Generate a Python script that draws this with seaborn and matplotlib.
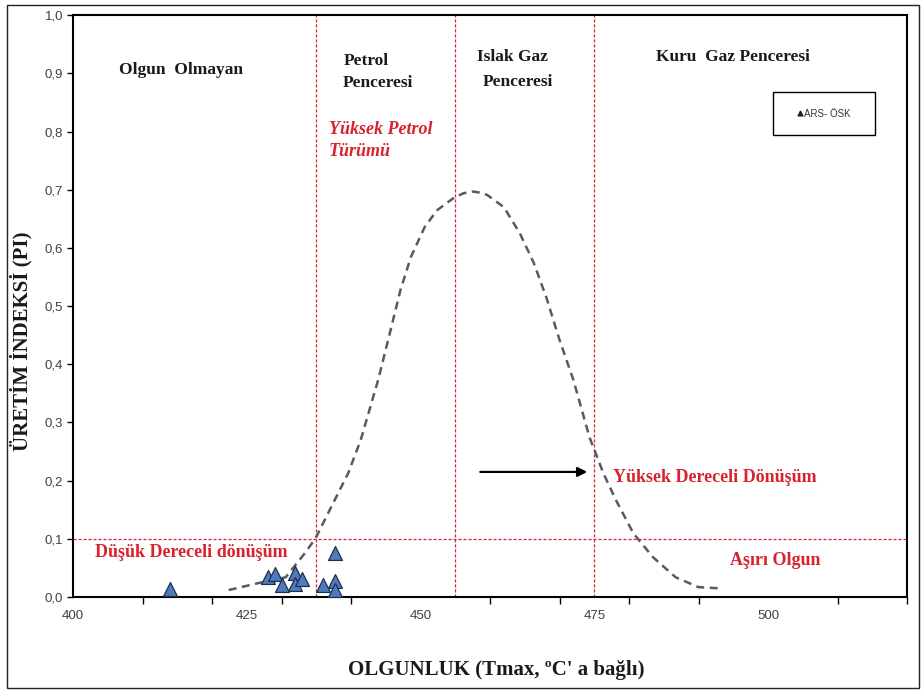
import matplotlib
matplotlib.use("Agg")
import matplotlib.pyplot as plt
from matplotlib.lines import Line2D
from matplotlib.patches import Rectangle
from matplotlib.ticker import FixedLocator, FuncFormatter
import seaborn as sns
import pandas as pd

# Sample measurements (ARS- ÖSK)
tmax = [414, 428, 429, 430, 432, 432, 433, 436, 437.7, 437.7, 437.7]
pi_values = [0.013, 0.035, 0.040, 0.020, 0.042, 0.022, 0.031, 0.021, 0.075, 0.028, 0.012]

# Reference maturity envelope
curve_tmax = [422.4, 426.7, 430.6, 433.4, 434.9, 436.7, 439.6, 441.4, 443.9, 445.7,
              447.1, 448.6, 450.6, 452.4, 454.9, 456.2, 457.5, 458.6, 459.6, 462.0,
              464.3, 466.3, 468.1, 470.0, 472.0, 474.3, 476.3, 478.1, 480.6, 483.4,
              486.7, 490.0, 492.9]
curve_pi = [0.012, 0.024, 0.034, 0.076, 0.101, 0.144, 0.213, 0.270, 0.373, 0.459,
            0.527, 0.584, 0.636, 0.665, 0.687, 0.694, 0.697, 0.695, 0.691, 0.670,
            0.625, 0.574, 0.515, 0.442, 0.373, 0.275, 0.213, 0.167, 0.110, 0.069,
            0.034, 0.017, 0.015]

# Maturity zone boundaries
window_bounds = [435, 455, 475]
conversion_limit = 0.1

x_major = [400, 425, 450, 475, 500]
x_minor = [400, 410, 420, 430, 440, 450, 460, 470, 480, 490, 500, 510, 520]
y_ticks = [0.0, 0.1, 0.2, 0.3, 0.4, 0.5, 0.6, 0.7, 0.8, 0.9, 1.0]

sns.set_theme(style="white")
plt.rcParams["font.family"] = ["Liberation Sans", "DejaVu Sans"]

RED = "#d8232f"
SERIF = ["Liberation Serif", "DejaVu Serif"]

fig = plt.figure(figsize=(9.23, 6.91), dpi=100)
ax = fig.add_axes([0.0791, 0.136, 0.9036, 0.842])

samples = pd.DataFrame({"Tmax": tmax, "PI": pi_values})
envelope = pd.DataFrame({"Tmax": curve_tmax, "PI": curve_pi})

# zone boundaries
for xb in window_bounds:
    ax.axvline(xb, color=RED, lw=0.9, linestyle=(0, (2.5, 1.5)), zorder=1)
ax.axhline(conversion_limit, color=RED, lw=0.9, linestyle=(0, (2.5, 1.5)), zorder=1)

sns.lineplot(data=envelope, x="Tmax", y="PI", ax=ax, color="#5a5a5a", lw=1.8,
             linestyle=(0, (3.2, 2.2)), sort=False, estimator=None, zorder=2)
sns.scatterplot(data=samples, x="Tmax", y="PI", ax=ax, marker="^", s=100,
                color="#4f7cb8", edgecolor="#1c2f52", linewidth=0.9, zorder=3,
                legend=False, clip_on=False)

ax.set_xlim(400, 520)
ax.set_ylim(0, 1.0)

ax.xaxis.set_major_locator(FixedLocator(x_major))
ax.xaxis.set_minor_locator(FixedLocator(x_minor))
ax.yaxis.set_major_locator(FixedLocator(y_ticks))
ax.xaxis.set_major_formatter(FuncFormatter(lambda v, p: f"{v:.0f}"))
ax.yaxis.set_major_formatter(FuncFormatter(lambda v, p: f"{v:.1f}".replace(".", ",")))
ax.tick_params(axis="x", which="major", bottom=True, length=0, pad=9, labelsize=9.5,
               labelcolor="#404040")
ax.tick_params(axis="x", which="minor", bottom=True, length=5, width=1, color="black",
               direction="out")
ax.tick_params(axis="y", which="major", left=True, length=4, width=1, color="black",
               direction="out", pad=3, labelsize=9.5, labelcolor="#404040")

for sp in ax.spines.values():
    sp.set_color("black")
    sp.set_linewidth(1.5)

ax.set_xlabel("OLGUNLUK (Tmax, ºC' a bağlı)", fontsize=15, fontweight="bold",
              family=SERIF, color="#1a1a1a")
ax.xaxis.set_label_coords(0.508, -0.108)
ax.set_ylabel("ÜRETİM İNDEKSİ (PI)", fontsize=15, fontweight="bold",
              family=SERIF, color="#1a1a1a")
ax.yaxis.set_label_coords(-0.048, 0.44)

# zone names
zone_kw = dict(fontsize=12.5, fontweight="bold", family=SERIF, color="#1a1a1a",
               ha="left", va="center")
ax.text(406.6, 0.905, "Olgun  Olmayan", **zone_kw)
ax.text(439.0, 0.921, "Petrol", **zone_kw)
ax.text(438.8, 0.883, "Penceresi", **zone_kw)
ax.text(458.1, 0.928, "Islak Gaz", **zone_kw)
ax.text(459.0, 0.885, "Penceresi", **zone_kw)
ax.text(483.9, 0.928, "Kuru  Gaz Penceresi", **zone_kw)

red_kw = dict(fontsize=13, fontweight="bold", family=SERIF, color=RED,
              ha="left", va="center")
ax.text(436.8, 0.804, "Yüksek Petrol", style="italic", **red_kw)
ax.text(436.8, 0.766, "Türümü", style="italic", **red_kw)
ax.text(477.7, 0.206, "Yüksek Dereceli Dönüşüm", **red_kw)
ax.text(494.5, 0.062, "Aşırı Olgun", **red_kw)
ax.text(403.2, 0.077, "Düşük Dereceli dönüşüm", **red_kw)

ax.annotate("", xy=(474.0, 0.215), xytext=(458.6, 0.215),
            arrowprops=dict(arrowstyle="-|>", color="black", lw=1.6,
                            mutation_scale=14, shrinkA=0, shrinkB=0))

# legend box
ax.add_patch(Rectangle((0.839, 0.794), 0.123, 0.074, transform=ax.transAxes,
                       facecolor="white", edgecolor="black", lw=1, zorder=4))
handle = Line2D([], [], marker="^", color="#222222", linestyle="None", markersize=3.5)
ax.legend([handle], ["ARS- ÖSK"], loc="center", bbox_to_anchor=(0.9005, 0.831),
          frameon=False, fontsize=7, handlelength=0.5, handletextpad=0.1,
          borderpad=0, labelcolor="#333333")

# outer frame
fig.add_artist(Rectangle((7 / 923, 3 / 691), 912 / 923, 683 / 691,
                         transform=fig.transFigure, fill=False,
                         edgecolor="#222222", lw=1))

fig.savefig("out.png", dpi=100)
